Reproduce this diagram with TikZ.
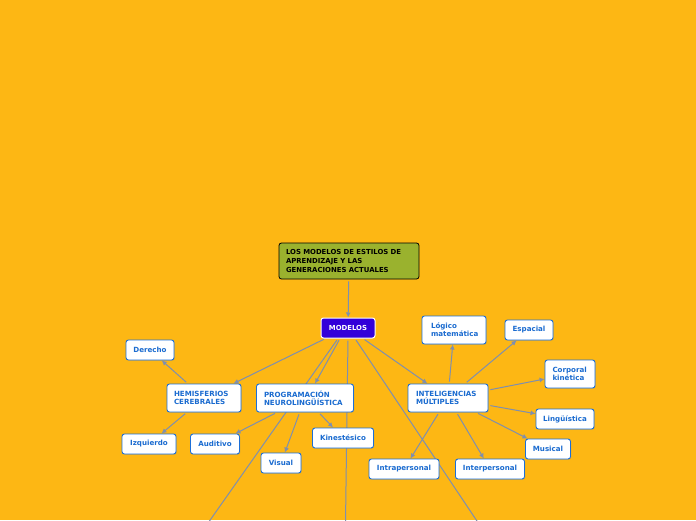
\documentclass[tikz,border=0pt]{standalone}
\usepackage{fontspec}
\setmainfont{DejaVu Sans}
\usetikzlibrary{arrows.meta,shadows,backgrounds}
\definecolor{fondo}{HTML}{FDB714}
\definecolor{borde}{HTML}{1C6FD8}
\definecolor{texto}{HTML}{1A6BD0}
\definecolor{linea}{HTML}{7F8FAE}
\definecolor{oliva}{HTML}{9AB22E}
\definecolor{morado}{HTML}{3300D9}
\tikzset{
  hoja/.style={draw=borde, line width=0.9pt, fill=white, rounded corners=2.5pt,
    text=texto, font=\fontsize{7.1}{8}\selectfont\bfseries, inner sep=0pt,
    align=left, drop shadow={shadow xshift=0.8pt, shadow yshift=-0.8pt, opacity=.25}},
  enlace/.style={draw=linea, line width=1pt, shorten <=2pt},
  flecha/.style={enlace, -{Latex[length=5pt,width=5pt]}},
}
\begin{document}
\begin{tikzpicture}[x=1pt,y=-1pt]
  \clip (0,0) rectangle (696,520);
  % titulo y raiz
  \node[draw=black, line width=0.8pt, fill=oliva, rounded corners=2.5pt, minimum width=140pt,
    minimum height=36pt, inner sep=0pt, align=left, text width=126pt,
    font=\fontsize{6.9}{8.6}\selectfont\bfseries] (titulo) at (349,261)
    {LOS MODELOS DE ESTILOS DE\\APRENDIZAJE Y LAS\\GENERACIONES ACTUALES};
  \node[draw=white, line width=1pt, fill=morado, rounded corners=2.5pt, text=white,
    minimum width=54pt, minimum height=20pt, inner sep=0pt,
    font=\fontsize{6.9}{8}\selectfont\bfseries] (modelos) at (348,328) {MODELOS};
  % ramas
  \node[hoja, minimum width=74pt, minimum height=28pt, text width=60pt] (hemisferios) at (204,398) {HEMISFERIOS\\CEREBRALES};
  \node[hoja, minimum width=97pt, minimum height=28pt, text width=82pt] (pnl) at (305,398) {PROGRAMACIÓN\\NEUROLINGÜÍSTICA};
  \node[hoja, minimum width=80pt, minimum height=28pt, text width=64pt] (multiples) at (448,398) {INTELIGENCIAS\\MÚLTIPLES};
  % hojas
  \node[hoja, minimum width=48pt, minimum height=20pt] (derecho) at (150,350) {Derecho};
  \node[hoja, minimum width=54pt, minimum height=20pt] (izquierdo) at (149,444) {Izquierdo};
  \node[hoja, minimum width=49pt, minimum height=20pt] (auditivo) at (215,444) {Auditivo};
  \node[hoja, minimum width=40pt, minimum height=20pt] (visual) at (281,463) {Visual};
  \node[hoja, minimum width=61pt, minimum height=20pt] (kinestesico) at (343,438) {Kinestésico};
  \node[hoja, minimum width=64pt, minimum height=28pt, text width=46pt] (logico) at (454,330) {Lógico\\matemática};
  \node[hoja, minimum width=48pt, minimum height=20pt] (espacial) at (529,330) {Espacial};
  \node[hoja, minimum width=50pt, minimum height=28pt, text width=35pt] (corporal) at (570,374) {Corporal\\kinética};
  \node[hoja, minimum width=58pt, minimum height=20pt] (linguistica) at (565,419) {Lingüística};
  \node[hoja, minimum width=45pt, minimum height=20pt] (musical) at (548,449) {Musical};
  \node[hoja, minimum width=70pt, minimum height=20pt] (intra) at (404,469) {Intrapersonal};
  \node[hoja, minimum width=69pt, minimum height=20pt] (inter) at (490,469) {Interpersonal};
  % ramas que salen del cuadro
  \coordinate (fueraA) at (182,560);
  \coordinate (fueraB) at (345,560);
  \coordinate (fueraC) at (503,560);
  % conectores
  \begin{scope}[on background layer]
    \fill[fondo] (0,0) rectangle (696,520);
    \draw[enlace] ([xshift=-10pt]modelos.south) -- (fueraA);
    \draw[enlace] (modelos.south) -- (fueraB);
    \draw[enlace] ([xshift=7pt]modelos.south) -- (fueraC);
    \draw[flecha] (titulo) -- (modelos);
    \draw[flecha] ([xshift=5pt]modelos.south west) -- ([xshift=-8pt]hemisferios.north east);
    \draw[flecha] ([xshift=-8pt]modelos.south) -- ([xshift=10pt]pnl.north);
    \draw[flecha] (modelos) -- (multiples);
    \draw[flecha] (hemisferios) -- (derecho);
    \draw[flecha] (hemisferios) -- (izquierdo);
    \draw[flecha] (pnl) -- (auditivo);
    \draw[flecha] (pnl) -- (visual);
    \draw[flecha] (pnl) -- (kinestesico);
    \foreach \d in {logico,espacial,corporal,linguistica,musical,intra,inter}
      \draw[flecha] (multiples) -- (\d);
  \end{scope}
\end{tikzpicture}
\end{document}
